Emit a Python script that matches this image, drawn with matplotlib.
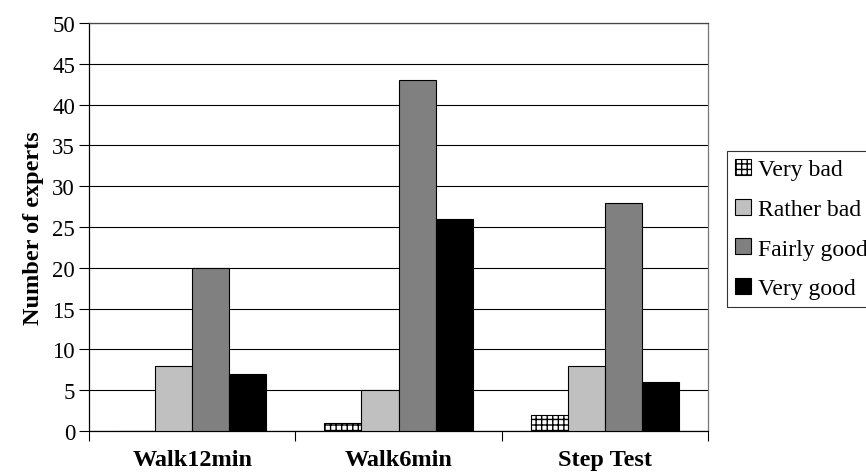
import matplotlib
matplotlib.use("Agg")
import matplotlib.pyplot as plt
import numpy as np

tests = ["Walk12min", "Walk6min", "Step Test"]
ratings = ["Very bad", "Rather bad", "Fairly good", "Very good"]
very_bad = [0, 1, 2]
rather_bad = [8, 5, 8]
fairly_good = [20, 43, 28]
very_good = [7, 26, 6]

plt.rcParams['font.family'] = ['Liberation Serif', 'DejaVu Serif']
plt.rcParams['hatch.linewidth'] = 1.0

fig = plt.figure(figsize=(8.66, 4.77), dpi=100)
ax = fig.add_axes([89/866, 1 - 432/477, (708 - 89)/866, (432 - 24)/477])

x = np.arange(len(tests))
w = 0.18
series = [very_bad, rather_bad, fairly_good, very_good]
colors = ["white", "#c0c0c0", "#808080", "black"]
hatches = ["+++", None, None, None]
for i, (vals, c, h, lab) in enumerate(zip(series, colors, hatches, ratings)):
    ax.bar(x + (i - 1.5) * w, vals, w, color=c, edgecolor="black",
           linewidth=0.8, hatch=h, label=lab, zorder=3)

ax.set_xlim(-0.5, 2.5)
ax.set_ylim(0, 50)
ax.set_yticks(range(0, 51, 5))
ax.yaxis.grid(True, color="black", linewidth=0.8, zorder=0)
ax.tick_params(axis="y", labelsize=16.5, length=7, width=0.8, direction="out", pad=3)

# tick marks sit between the groups, names sit under the groups
ax.set_xticks([-0.5, 0.5, 1.5, 2.5])
ax.set_xticklabels([])
ax.tick_params(axis="x", which="major", length=7, width=0.8, direction="out")
ax.set_xticks(x, minor=True)
ax.set_xticklabels(tests, minor=True, fontsize=17.5, fontweight="bold")
ax.tick_params(axis="x", which="minor", length=0, pad=13)

for s in ax.spines.values():
    s.set_linewidth(0.9)
    s.set_color("black")
ax.spines["top"].set_color("#444444")
ax.spines["right"].set_color("#777777")

ax.set_ylabel("Number of experts", fontsize=17.5, fontweight="bold", labelpad=6)

# the legend box runs past the right edge of the figure
leg = fig.legend(loc="upper left", bbox_to_anchor=(727/866, 1 - 152/477),
                 fontsize=17, frameon=True, fancybox=False, edgecolor="black",
                 handlelength=0.68, handleheight=0.68, handletextpad=0.3,
                 labelspacing=0.77, borderpad=0.34, borderaxespad=0)
leg.get_frame().set_linewidth(0.8)

fig.savefig("out.png", dpi=100)
